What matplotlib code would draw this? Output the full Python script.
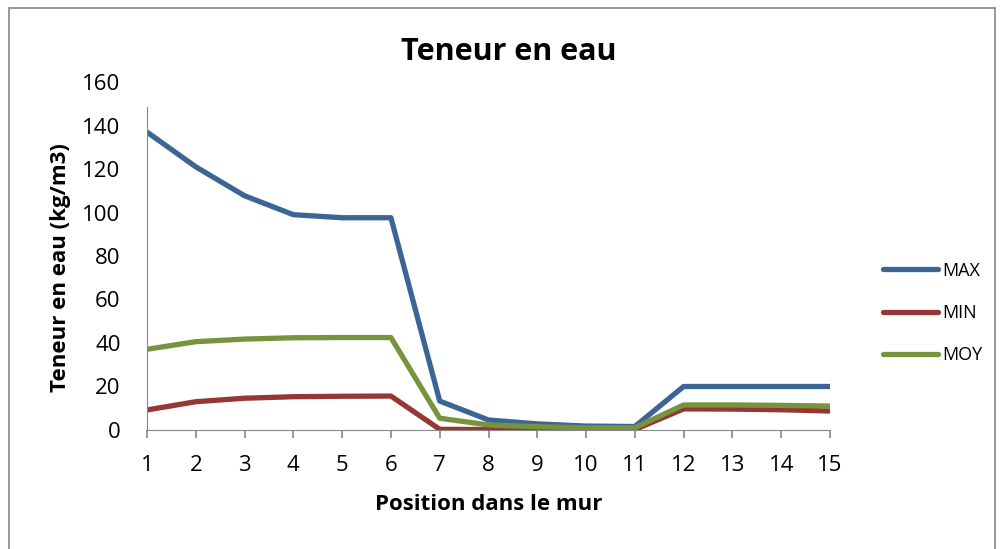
import matplotlib.pyplot as plt
from matplotlib.patches import Rectangle

plt.rcParams['font.family'] = ['Open Sans', 'DejaVu Sans']

positions = list(range(1, 16))
val_max = [137, 121, 107.7, 99, 97.6, 97.6, 13.3, 4.6, 2.8, 1.8, 1.6, 20, 20, 20, 20]
val_min = [9.2, 13, 14.6, 15.3, 15.5, 15.6, 0.3, 0.2, 0.2, 0.2, 0.2, 9.7, 9.6, 9.3, 8.7]
val_moy = [37.1, 40.6, 41.8, 42.4, 42.5, 42.5, 5.4, 2.3, 1.5, 1.0, 1.0, 11.5, 11.5, 11.3, 11.0]

series = [('MAX', val_max, '#3A6595'), ('MIN', val_min, '#953735'), ('MOY', val_moy, '#77933C')]

fig = plt.figure(figsize=(10, 5.49), dpi=100)
ax = fig.add_axes([0.147, 0.2168, 0.683, 0.6338])

for name, vals, col in series:
    ax.plot(positions, vals, color=col, linewidth=3.8, label=name, solid_capstyle='round')

ax.set_xlim(1, 15)
ax.set_ylim(0, 160)
ax.set_xticks(positions)
ax.set_yticks(range(0, 161, 20))

# axes style
for s in ['top', 'right']:
    ax.spines[s].set_visible(False)
ax.spines['left'].set_color('#868686')
ax.spines['bottom'].set_color('#868686')
ax.spines['left'].set_bounds(0, 148.5)
ax.tick_params(axis='x', direction='out', length=6, color='#868686', width=1.2, pad=12, labelsize=16)
ax.tick_params(axis='y', length=0, pad=19, labelsize=16)

# title centred on the whole chart, as in Excel
fig.text(0.509, 0.905, 'Teneur en eau', fontsize=22, fontweight='bold', ha='center', va='center')
ax.set_xlabel('Position dans le mur', fontsize=16, fontweight='bold', labelpad=13)
ax.set_ylabel('Teneur en eau (kg/m3)', fontsize=16, fontweight='bold')
ax.yaxis.set_label_coords(-0.111, 0.466)

leg = ax.legend(loc='center left', bbox_to_anchor=(1.078, 0.336), frameon=False,
                borderpad=0, borderaxespad=0,
                fontsize=13, handlelength=3.05, handletextpad=0.22, labelspacing=1.35)

# outer border
fig.patches.append(Rectangle((0.009, -0.01), 0.986, 0.995, transform=fig.transFigure,
                             fill=False, edgecolor='#868686', linewidth=1.2))

fig.savefig('out.png', dpi=100)
